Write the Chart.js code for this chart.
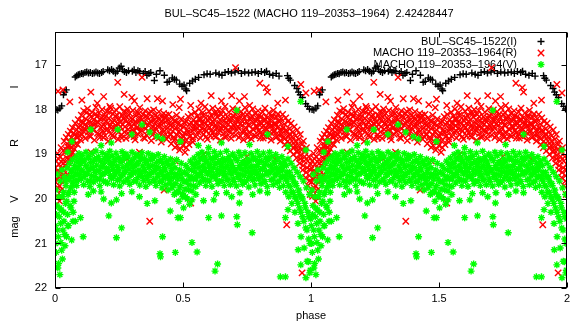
<!DOCTYPE html>
<html>
<head>
<meta charset="utf-8">
<title>BUL-SC45-1522 light curve</title>
<script src="https://cdn.jsdelivr.net/npm/chart.js@4.4.1/dist/chart.umd.min.js"></script>
<style>
  html, body { margin: 0; padding: 0; background: #fff; }
  #lc { display: block; }
</style>
</head>
<body>
<canvas id="lc" width="573" height="330"></canvas>
<script>
const titleText = 'BUL–SC45–1522 (MACHO 119–20353–1964)  2.42428447';
const seriesNames = ['BUL–SC45–1522(I)', 'MACHO 119–20353–1964(R)', 'MACHO 119–20353–1964(V)'];
const xTicks = [0, 0.5, 1, 1.5, 2];
const yTicks = [17, 18, 19, 20, 21, 22];

// phase-folded photometry over one cycle: [phase, mag]
const iPoints = [
  [0.004, 17.99], [0.011, 18.00], [0.019, 17.96], [0.026, 17.91], [0.033, 17.66], [0.038, 17.60], [0.044, 17.55],
  [0.079, 17.26], [0.085, 17.23], [0.091, 17.21], [0.097, 17.20], [0.104, 17.18], [0.110, 17.19], [0.117, 17.16],
  [0.124, 17.15], [0.131, 17.17], [0.138, 17.16], [0.146, 17.18], [0.153, 17.17], [0.160, 17.15], [0.167, 17.17],
  [0.174, 17.18], [0.182, 17.16], [0.188, 17.14], [0.206, 17.10], [0.213, 17.12], [0.221, 17.09], [0.228, 17.13],
  [0.236, 17.17], [0.243, 17.13], [0.251, 17.06], [0.258, 17.02], [0.264, 17.10], [0.271, 17.14], [0.279, 17.16],
  [0.287, 17.12], [0.302, 17.13], [0.309, 17.10], [0.316, 17.16], [0.324, 17.12], [0.331, 17.14], [0.345, 17.18],
  [0.352, 17.14], [0.359, 17.22], [0.367, 17.18], [0.374, 17.16], [0.388, 17.34], [0.396, 17.20], [0.410, 17.12],
  [0.427, 17.22], [0.438, 17.38], [0.446, 17.36], [0.458, 17.28], [0.466, 17.31], [0.474, 17.33], [0.487, 17.42],
  [0.496, 17.47], [0.504, 17.44], [0.511, 17.53], [0.514, 17.57], [0.526, 17.40], [0.537, 17.35], [0.548, 17.31],
  [0.561, 17.27], [0.582, 17.21], [0.594, 17.19], [0.606, 17.20], [0.628, 17.17], [0.641, 17.20], [0.652, 17.22],
  [0.664, 17.16], [0.677, 17.14], [0.689, 17.17], [0.703, 17.15], [0.716, 17.12], [0.728, 17.18], [0.741, 17.15],
  [0.756, 17.17], [0.769, 17.16], [0.782, 17.15], [0.794, 17.18], [0.806, 17.14], [0.819, 17.16], [0.826, 17.13],
  [0.838, 17.20], [0.851, 17.22], [0.864, 17.18], [0.875, 17.24], [0.908, 17.23], [0.913, 17.29], [0.919, 17.33],
  [0.936, 17.45], [0.945, 17.52], [0.951, 17.60], [0.958, 17.66], [0.966, 17.72], [0.979, 17.86], [0.987, 17.92],
  [0.994, 17.98]
];

const rPoints = [
  [0.002, 19.62], [0.004, 19.15], [0.006, 19.94], [0.008, 19.38], [0.010, 18.98], [0.012, 19.75], [0.014, 19.50],
  [0.016, 19.22], [0.018, 20.05], [0.020, 19.05], [0.022, 19.60], [0.024, 18.85], [0.026, 19.32], [0.028, 19.78],
  [0.030, 19.12], [0.032, 18.92], [0.034, 19.45], [0.036, 18.70], [0.038, 19.25], [0.040, 18.95], [0.042, 19.55],
  [0.044, 18.62], [0.046, 19.08], [0.048, 18.82], [0.050, 19.30], [0.052, 18.55], [0.054, 18.90], [0.056, 18.72],
  [0.058, 19.12], [0.060, 18.48], [0.062, 18.85], [0.064, 18.62], [0.066, 18.98], [0.068, 18.40], [0.070, 18.70],
  [0.073, 18.52], [0.076, 18.88], [0.079, 18.30], [0.082, 18.60], [0.085, 18.45], [0.088, 18.78], [0.091, 18.22],
  [0.094, 18.50], [0.097, 18.35], [0.100, 18.68],
  [0.001, 19.30], [0.005, 19.80], [0.009, 19.55], [0.013, 19.10], [0.017, 19.70], [0.021, 19.40], [0.025, 19.95],
  [0.029, 19.50], [0.033, 19.20], [0.037, 19.60], [0.041, 19.25], [0.045, 18.90], [0.049, 19.45], [0.053, 19.10],
  [0.057, 18.80], [0.061, 19.00], [0.065, 18.75], [0.069, 18.95], [0.074, 18.68], [0.078, 18.55], [0.083, 18.75],
  [0.087, 18.62], [0.092, 18.40], [0.096, 18.58],
  [0.103, 18.12], [0.106, 18.55], [0.109, 18.30], [0.112, 18.02], [0.115, 18.42], [0.118, 18.64], [0.121, 18.20],
  [0.124, 18.36], [0.127, 17.97], [0.130, 18.50], [0.133, 18.26], [0.136, 18.10], [0.139, 18.60], [0.142, 18.38],
  [0.145, 18.05], [0.148, 18.45], [0.151, 18.22], [0.154, 18.68], [0.157, 18.32], [0.160, 17.94], [0.163, 18.15],
  [0.166, 18.52], [0.169, 18.28], [0.172, 18.07], [0.175, 18.62], [0.178, 18.40], [0.181, 18.18], [0.184, 17.99],
  [0.187, 18.48], [0.190, 18.34], [0.193, 18.11], [0.196, 18.58], [0.199, 18.25], [0.202, 18.03], [0.205, 18.43],
  [0.208, 18.70], [0.211, 18.19], [0.214, 18.36], [0.217, 17.96], [0.220, 18.53], [0.223, 18.27], [0.226, 18.09],
  [0.229, 18.61], [0.232, 18.41], [0.235, 18.14], [0.238, 18.00], [0.241, 18.47], [0.244, 18.30], [0.247, 18.66],
  [0.250, 18.20], [0.253, 17.93], [0.256, 18.38], [0.259, 18.56], [0.262, 18.12], [0.265, 18.33], [0.268, 18.04],
  [0.271, 18.50], [0.274, 18.24], [0.277, 18.64], [0.280, 18.16], [0.283, 17.98], [0.286, 18.44], [0.289, 18.29],
  [0.292, 18.08], [0.295, 18.59], [0.298, 18.37], [0.301, 18.21], [0.304, 18.01], [0.307, 18.49], [0.310, 18.32],
  [0.313, 18.67], [0.316, 18.13], [0.319, 18.40], [0.322, 18.05], [0.325, 18.55], [0.328, 18.26], [0.331, 17.95],
  [0.334, 18.19], [0.337, 18.46], [0.340, 18.35], [0.343, 18.10], [0.346, 18.62], [0.349, 18.28], [0.352, 18.02],
  [0.355, 18.42], [0.358, 18.57], [0.361, 18.17], [0.364, 18.34], [0.367, 18.07], [0.370, 18.51], [0.373, 18.25],
  [0.376, 18.69], [0.379, 18.14], [0.382, 18.39], [0.385, 18.00], [0.388, 18.48], [0.391, 18.30], [0.394, 18.11],
  [0.397, 18.60], [0.400, 18.36], [0.403, 18.20], [0.406, 18.04], [0.409, 18.53], [0.412, 18.31], [0.415, 18.72],
  [0.418, 18.16], [0.421, 18.44], [0.424, 18.08], [0.427, 18.58], [0.430, 18.27], [0.433, 18.12], [0.436, 18.66],
  [0.439, 18.40], [0.442, 18.22], [0.445, 18.10], [0.448, 18.55],
  [0.105, 18.25], [0.111, 18.48], [0.117, 18.33], [0.123, 18.06], [0.129, 18.40], [0.135, 18.58], [0.141, 18.15],
  [0.147, 18.31], [0.153, 18.44], [0.159, 18.09], [0.165, 18.27], [0.171, 18.55], [0.177, 18.21], [0.183, 18.37],
  [0.189, 18.62], [0.195, 18.17], [0.201, 18.46], [0.207, 18.29], [0.213, 18.05], [0.219, 18.41], [0.225, 18.57],
  [0.231, 18.24], [0.237, 18.35], [0.243, 18.12], [0.249, 18.49], [0.255, 18.28], [0.261, 18.63], [0.267, 18.19],
  [0.273, 18.38], [0.279, 18.06], [0.285, 18.52], [0.291, 18.33], [0.297, 18.18], [0.303, 18.45], [0.309, 18.60],
  [0.315, 18.26], [0.321, 18.39], [0.327, 18.09], [0.333, 18.50], [0.339, 18.22], [0.345, 18.37], [0.351, 18.64],
  [0.357, 18.14], [0.363, 18.47], [0.369, 18.30], [0.375, 18.04], [0.381, 18.56], [0.387, 18.23], [0.393, 18.41],
  [0.399, 18.16], [0.405, 18.63], [0.411, 18.36], [0.417, 18.25], [0.423, 18.50], [0.429, 18.18], [0.435, 18.43],
  [0.441, 18.60], [0.447, 18.30],
  [0.451, 18.35], [0.454, 18.76], [0.457, 18.18], [0.460, 18.48], [0.463, 18.62], [0.466, 18.25], [0.469, 18.84],
  [0.472, 18.40], [0.475, 18.12], [0.478, 18.57], [0.481, 18.70], [0.484, 18.30], [0.487, 18.90], [0.490, 18.45],
  [0.493, 18.20], [0.496, 18.64], [0.499, 18.80], [0.502, 18.38], [0.505, 18.52], [0.508, 18.95], [0.511, 18.25],
  [0.514, 18.68], [0.517, 18.44], [0.520, 18.15], [0.523, 18.78], [0.526, 18.33], [0.529, 18.58], [0.532, 18.10],
  [0.535, 18.47], [0.538, 18.72], [0.541, 18.22], [0.544, 18.38], [0.547, 18.05], [0.550, 18.60],
  [0.453, 18.55], [0.459, 18.38], [0.465, 18.68], [0.471, 18.26], [0.477, 18.80], [0.483, 18.50], [0.489, 18.36],
  [0.495, 18.72], [0.501, 18.58], [0.507, 18.30], [0.513, 18.85], [0.519, 18.50], [0.525, 18.60], [0.531, 18.28],
  [0.537, 18.65], [0.543, 18.45], [0.549, 18.30],
  [0.553, 18.28], [0.556, 18.14], [0.559, 18.50], [0.562, 17.98], [0.565, 18.36], [0.568, 18.63], [0.571, 18.21],
  [0.574, 18.42], [0.577, 18.06], [0.580, 18.55], [0.583, 18.30], [0.586, 17.93], [0.589, 18.18], [0.592, 18.47],
  [0.595, 18.66], [0.598, 18.25], [0.601, 18.03], [0.604, 18.39], [0.607, 18.58], [0.610, 18.12], [0.613, 18.33],
  [0.616, 17.96], [0.619, 18.50], [0.622, 18.22], [0.625, 18.07], [0.628, 18.61], [0.631, 18.40], [0.634, 18.16],
  [0.637, 17.99], [0.640, 18.45], [0.643, 18.29], [0.646, 18.68], [0.649, 18.10], [0.652, 18.35], [0.655, 18.02],
  [0.658, 18.53], [0.661, 18.24], [0.664, 17.92], [0.667, 18.41], [0.670, 18.60], [0.673, 18.15], [0.676, 18.32],
  [0.679, 18.05], [0.682, 18.48], [0.685, 18.27], [0.688, 18.64], [0.691, 18.19], [0.694, 17.97], [0.697, 18.43],
  [0.700, 18.36], [0.703, 18.09], [0.706, 18.56], [0.709, 18.23], [0.712, 18.00], [0.715, 18.38], [0.718, 18.62],
  [0.721, 18.13], [0.724, 18.31], [0.727, 18.04], [0.730, 18.49], [0.733, 18.26], [0.736, 18.67], [0.739, 18.17],
  [0.742, 17.95], [0.745, 18.40], [0.748, 18.55], [0.751, 18.11], [0.754, 18.34], [0.757, 18.06], [0.760, 18.52],
  [0.763, 18.22], [0.766, 18.65], [0.769, 18.14], [0.772, 17.98], [0.775, 18.44], [0.778, 18.30], [0.781, 18.08],
  [0.784, 18.59], [0.787, 18.37], [0.790, 18.19], [0.793, 18.02], [0.796, 18.47], [0.799, 18.28], [0.802, 18.63],
  [0.805, 18.15], [0.808, 18.39], [0.811, 18.05], [0.814, 18.54], [0.817, 18.25], [0.820, 17.96], [0.823, 18.41],
  [0.826, 18.60], [0.829, 18.18], [0.832, 18.33], [0.835, 18.07], [0.838, 18.50], [0.841, 18.24], [0.844, 18.68],
  [0.847, 18.12], [0.850, 18.36], [0.853, 18.01], [0.856, 18.46], [0.859, 18.29], [0.862, 18.62], [0.865, 18.16],
  [0.868, 18.40], [0.871, 18.09], [0.874, 18.56], [0.877, 18.27], [0.880, 18.70], [0.883, 18.20], [0.886, 18.45],
  [0.555, 18.40], [0.561, 18.20], [0.567, 18.48], [0.573, 18.30], [0.579, 18.12], [0.585, 18.44], [0.591, 18.60],
  [0.597, 18.35], [0.603, 18.18], [0.609, 18.47], [0.615, 18.27], [0.621, 18.58], [0.627, 18.34], [0.633, 18.08],
  [0.639, 18.51], [0.645, 18.23], [0.651, 18.42], [0.657, 18.15], [0.663, 18.61], [0.669, 18.30], [0.675, 18.47],
  [0.681, 18.20], [0.687, 18.38], [0.693, 18.55], [0.699, 18.14], [0.705, 18.32], [0.711, 18.45], [0.717, 18.22],
  [0.723, 18.58], [0.729, 18.36], [0.735, 18.10], [0.741, 18.48], [0.747, 18.26], [0.753, 18.62], [0.759, 18.35],
  [0.765, 18.18], [0.771, 18.43], [0.777, 18.57], [0.783, 18.24], [0.789, 18.40], [0.795, 18.13], [0.801, 18.52],
  [0.807, 18.30], [0.813, 18.63], [0.819, 18.20], [0.825, 18.44], [0.831, 18.27], [0.837, 18.58], [0.843, 18.36],
  [0.849, 18.15], [0.855, 18.50], [0.861, 18.33], [0.867, 18.60], [0.873, 18.25], [0.879, 18.45], [0.885, 18.55],
  [0.889, 18.10], [0.892, 18.62], [0.895, 18.32], [0.898, 18.78], [0.901, 18.18], [0.904, 18.50], [0.907, 18.85],
  [0.910, 18.26], [0.913, 18.60], [0.916, 18.42], [0.919, 18.92], [0.922, 18.30], [0.925, 18.70], [0.928, 18.50],
  [0.931, 19.00], [0.934, 18.38], [0.937, 18.80], [0.940, 18.58], [0.943, 19.08], [0.946, 18.45], [0.949, 18.90],
  [0.952, 18.66], [0.955, 19.20], [0.958, 18.55], [0.961, 19.02], [0.964, 18.78], [0.967, 19.35], [0.970, 18.70],
  [0.973, 19.15], [0.976, 18.92], [0.979, 19.52], [0.982, 18.85], [0.985, 19.30], [0.988, 19.70], [0.991, 19.05],
  [0.994, 19.48], [0.997, 19.90], [0.999, 19.22],
  [0.891, 18.40], [0.897, 18.65], [0.903, 18.45], [0.909, 18.70], [0.915, 18.55], [0.921, 18.80], [0.927, 18.60],
  [0.933, 18.85], [0.939, 18.70], [0.945, 18.95], [0.951, 18.80], [0.957, 19.10], [0.963, 18.90], [0.969, 19.25],
  [0.975, 19.05], [0.981, 19.40], [0.987, 19.15], [0.993, 19.60], [0.998, 19.35],
  // scattered measurements away from the main band
  [0.012, 17.58], [0.031, 17.55], [0.058, 17.82], [0.105, 17.78], [0.140, 17.60], [0.165, 17.85], [0.190, 17.70],
  [0.214, 17.92], [0.245, 17.38], [0.270, 17.65], [0.300, 17.72], [0.310, 17.80], [0.340, 17.27], [0.360, 17.75],
  [0.400, 17.75], [0.420, 17.80], [0.460, 17.88], [0.485, 17.95], [0.490, 17.76], [0.530, 17.90], [0.570, 17.85],
  [0.610, 17.68], [0.650, 17.80], [0.690, 17.68], [0.705, 17.05], [0.720, 17.80], [0.740, 17.70], [0.760, 17.90],
  [0.800, 17.40], [0.825, 17.50], [0.830, 17.60], [0.870, 17.85], [0.900, 17.78], [0.960, 17.43], [0.980, 17.62],
  [0.370, 20.50], [0.905, 20.58], [0.965, 21.66], [0.426, 19.80], [0.530, 20.09], [0.200, 19.05], [0.280, 19.10],
  [0.580, 19.00], [0.640, 19.15], [0.750, 19.05], [0.860, 19.10], [0.330, 18.95], [0.470, 19.15], [0.140, 18.95]
];

const vPoints = [
  [0.001, 20.60], [0.003, 19.80], [0.005, 21.20], [0.007, 20.15], [0.009, 19.45], [0.011, 21.55], [0.013, 20.85],
  [0.015, 19.95], [0.017, 20.40], [0.019, 21.70], [0.021, 19.60], [0.023, 20.98], [0.025, 20.25], [0.027, 19.35],
  [0.029, 21.35], [0.031, 20.70], [0.033, 19.85], [0.035, 20.50], [0.037, 19.50], [0.039, 21.05], [0.041, 20.10],
  [0.043, 19.70], [0.045, 20.85], [0.047, 19.30], [0.049, 20.35], [0.051, 19.90], [0.053, 20.60], [0.055, 19.55],
  [0.057, 19.20], [0.059, 20.15], [0.061, 19.75], [0.063, 19.40], [0.065, 20.92], [0.067, 19.62], [0.069, 19.12],
  [0.071, 20.30], [0.073, 19.50], [0.075, 19.85], [0.077, 19.25], [0.079, 20.50], [0.081, 19.42], [0.083, 19.05],
  [0.085, 19.70], [0.088, 19.32], [0.091, 19.58], [0.094, 18.98], [0.097, 19.45],
  [0.002, 21.00], [0.006, 20.35], [0.010, 20.70], [0.014, 21.45], [0.018, 20.20], [0.022, 20.55], [0.026, 21.15],
  [0.030, 19.95], [0.034, 20.30], [0.038, 20.80], [0.042, 19.60], [0.046, 20.05], [0.050, 20.60], [0.054, 19.85],
  [0.058, 19.50], [0.062, 20.20], [0.066, 19.35], [0.070, 19.70], [0.074, 20.05], [0.078, 19.30], [0.082, 19.60],
  [0.086, 19.15], [0.090, 19.45], [0.095, 19.25], [0.099, 19.10],
  [0.100, 19.20], [0.103, 19.55], [0.106, 19.02], [0.109, 19.38], [0.112, 19.68], [0.115, 19.12], [0.118, 19.45],
  [0.121, 18.95], [0.124, 19.28], [0.127, 19.60], [0.130, 19.08], [0.133, 19.35], [0.136, 19.72], [0.139, 19.18],
  [0.142, 19.48], [0.145, 18.98], [0.148, 19.30], [0.151, 19.62], [0.154, 19.10], [0.157, 19.40], [0.160, 18.92],
  [0.163, 19.24], [0.166, 19.56], [0.169, 19.05], [0.172, 19.36], [0.175, 19.70], [0.178, 19.15], [0.181, 19.46],
  [0.184, 18.96], [0.187, 19.27], [0.190, 19.60], [0.193, 19.09], [0.196, 19.42], [0.199, 19.00], [0.202, 19.32],
  [0.205, 19.65], [0.208, 19.14], [0.211, 19.38], [0.214, 18.93], [0.217, 19.22], [0.220, 19.54], [0.223, 19.04],
  [0.226, 19.34], [0.229, 19.68], [0.232, 19.16], [0.235, 19.44], [0.238, 18.97], [0.241, 19.26], [0.244, 19.58],
  [0.247, 19.07], [0.250, 19.37], [0.253, 19.71], [0.256, 19.12], [0.259, 19.48], [0.262, 18.94], [0.265, 19.29],
  [0.268, 19.62], [0.271, 19.10], [0.274, 19.40], [0.277, 18.99], [0.280, 19.24], [0.283, 19.55], [0.286, 19.06],
  [0.289, 19.33], [0.292, 19.67], [0.295, 19.17], [0.298, 19.45], [0.301, 18.95], [0.304, 19.28], [0.307, 19.60],
  [0.310, 19.08], [0.313, 19.39], [0.316, 19.00], [0.319, 19.21], [0.322, 19.52], [0.325, 19.03], [0.328, 19.35],
  [0.331, 19.69], [0.334, 19.13], [0.337, 19.43], [0.340, 18.96], [0.343, 19.26], [0.346, 19.59], [0.349, 19.09],
  [0.352, 19.38], [0.355, 19.72], [0.358, 19.15], [0.361, 19.47], [0.364, 18.98], [0.367, 19.30], [0.370, 19.63],
  [0.373, 19.11], [0.376, 19.41], [0.379, 19.02], [0.382, 19.25], [0.385, 19.56], [0.388, 19.06], [0.391, 19.36],
  [0.394, 19.70], [0.397, 19.18], [0.400, 19.46], [0.403, 19.00], [0.406, 19.30], [0.409, 19.62], [0.412, 19.12],
  [0.415, 19.42], [0.418, 19.75], [0.421, 19.20], [0.424, 19.50], [0.427, 19.05], [0.430, 19.35], [0.433, 19.68],
  [0.436, 19.15], [0.439, 19.45], [0.442, 19.80],
  [0.102, 19.35], [0.108, 19.15], [0.114, 19.50], [0.120, 19.25], [0.126, 19.42], [0.132, 19.05], [0.138, 19.60],
  [0.144, 19.30], [0.150, 19.16], [0.156, 19.50], [0.162, 19.38], [0.168, 19.10], [0.174, 19.55], [0.180, 19.28],
  [0.186, 19.44], [0.192, 19.20], [0.198, 19.62], [0.204, 19.33], [0.210, 19.06], [0.216, 19.47], [0.222, 19.25],
  [0.228, 19.50], [0.234, 19.12], [0.240, 19.40], [0.246, 19.30], [0.252, 19.55], [0.258, 19.18], [0.264, 19.45],
  [0.270, 19.03], [0.276, 19.36], [0.282, 19.58], [0.288, 19.22], [0.294, 19.46], [0.300, 19.14], [0.306, 19.40],
  [0.312, 19.26], [0.318, 19.60], [0.324, 19.20], [0.330, 19.44], [0.336, 19.08], [0.342, 19.50], [0.348, 19.33],
  [0.354, 19.18], [0.360, 19.55], [0.366, 19.24], [0.372, 19.45], [0.378, 19.10], [0.384, 19.38], [0.390, 19.60],
  [0.396, 19.28], [0.402, 19.50], [0.408, 19.15], [0.414, 19.40], [0.420, 19.60], [0.426, 19.30], [0.432, 19.52],
  [0.438, 19.20], [0.444, 19.50],
  [0.445, 19.25], [0.448, 19.58], [0.451, 19.10], [0.454, 19.40], [0.457, 19.75], [0.460, 19.20], [0.463, 19.52],
  [0.466, 19.90], [0.469, 19.30], [0.472, 19.65], [0.475, 19.12], [0.478, 19.45], [0.481, 19.85], [0.484, 20.05],
  [0.487, 19.35], [0.490, 19.70], [0.493, 19.20], [0.496, 19.55], [0.499, 19.95], [0.502, 20.20], [0.505, 19.40],
  [0.508, 19.78], [0.511, 19.25], [0.514, 19.60], [0.517, 20.00], [0.520, 19.32], [0.523, 19.68], [0.526, 20.12],
  [0.529, 19.15], [0.532, 19.50], [0.535, 19.82], [0.538, 19.22], [0.541, 19.55], [0.544, 19.08], [0.547, 19.40],
  [0.550, 19.72], [0.553, 19.18],
  [0.450, 19.65], [0.456, 19.32], [0.462, 19.70], [0.468, 19.45], [0.474, 19.85], [0.480, 19.55], [0.486, 19.75],
  [0.492, 19.45], [0.498, 19.88], [0.504, 19.62], [0.510, 19.95], [0.516, 19.45], [0.522, 19.80], [0.528, 19.55],
  [0.534, 19.35], [0.540, 19.70], [0.546, 19.28], [0.552, 19.55],
  [0.556, 19.48], [0.559, 19.00], [0.562, 19.30], [0.565, 19.64], [0.568, 19.10], [0.571, 19.40], [0.574, 18.95],
  [0.577, 19.26], [0.580, 19.58], [0.583, 19.06], [0.586, 19.36], [0.589, 19.70], [0.592, 19.15], [0.595, 19.44],
  [0.598, 18.98], [0.601, 19.28], [0.604, 19.60], [0.607, 19.08], [0.610, 19.38], [0.613, 19.72], [0.616, 19.12],
  [0.619, 19.47], [0.622, 18.94], [0.625, 19.22], [0.628, 19.55], [0.631, 19.04], [0.634, 19.34], [0.637, 19.66],
  [0.640, 19.16], [0.643, 19.43], [0.646, 18.97], [0.649, 19.27], [0.652, 19.59], [0.655, 19.09], [0.658, 19.39],
  [0.661, 19.70], [0.664, 19.13], [0.667, 19.46], [0.670, 18.93], [0.673, 19.24], [0.676, 19.56], [0.679, 19.05],
  [0.682, 19.35], [0.685, 19.68], [0.688, 19.17], [0.691, 19.44], [0.694, 18.99], [0.697, 19.29], [0.700, 19.61],
  [0.703, 19.07], [0.706, 19.37], [0.709, 19.71], [0.712, 19.14], [0.715, 19.45], [0.718, 18.95], [0.721, 19.25],
  [0.724, 19.57], [0.727, 19.03], [0.730, 19.33], [0.733, 19.67], [0.736, 19.18], [0.739, 19.48], [0.742, 18.96],
  [0.745, 19.28], [0.748, 19.60], [0.751, 19.10], [0.754, 19.40], [0.757, 19.73], [0.760, 19.15], [0.763, 19.43],
  [0.766, 18.98], [0.769, 19.26], [0.772, 19.58], [0.775, 19.06], [0.778, 19.36], [0.781, 19.69], [0.784, 19.12],
  [0.787, 19.44], [0.790, 18.94], [0.793, 19.23], [0.796, 19.55], [0.799, 19.04], [0.802, 19.34], [0.805, 19.66],
  [0.808, 19.16], [0.811, 19.47], [0.814, 18.97], [0.817, 19.28], [0.820, 19.61], [0.823, 19.08], [0.826, 19.38],
  [0.829, 19.72], [0.832, 19.13], [0.835, 19.42], [0.838, 18.95], [0.841, 19.25], [0.844, 19.57], [0.847, 19.05],
  [0.850, 19.35], [0.853, 19.68], [0.856, 19.17], [0.859, 19.46], [0.862, 19.00], [0.865, 19.30], [0.868, 19.62],
  [0.871, 19.10], [0.874, 19.40], [0.877, 19.74], [0.880, 19.20], [0.883, 19.50], [0.886, 19.05], [0.889, 19.35],
  [0.892, 19.70], [0.895, 19.15], [0.898, 19.48],
  [0.558, 19.20], [0.564, 19.45], [0.570, 19.10], [0.576, 19.52], [0.582, 19.30], [0.588, 19.16], [0.594, 19.58],
  [0.600, 19.40], [0.606, 19.22], [0.612, 19.50], [0.618, 19.30], [0.624, 19.06], [0.630, 19.45], [0.636, 19.20],
  [0.642, 19.60], [0.648, 19.36], [0.654, 19.18], [0.660, 19.48], [0.666, 19.30], [0.672, 19.58], [0.678, 19.12],
  [0.684, 19.42], [0.690, 19.25], [0.696, 19.55], [0.702, 19.35], [0.708, 19.10], [0.714, 19.50], [0.720, 19.30],
  [0.726, 19.45], [0.732, 19.18], [0.738, 19.62], [0.744, 19.38], [0.750, 19.20], [0.756, 19.52], [0.762, 19.30],
  [0.768, 19.45], [0.774, 19.10], [0.780, 19.55], [0.786, 19.27], [0.792, 19.42], [0.798, 19.15], [0.804, 19.50],
  [0.810, 19.32], [0.816, 19.60], [0.822, 19.22], [0.828, 19.45], [0.834, 19.08], [0.840, 19.40], [0.846, 19.28],
  [0.852, 19.55], [0.858, 19.20], [0.864, 19.45], [0.870, 19.35], [0.876, 19.60], [0.882, 19.30], [0.888, 19.50],
  [0.894, 19.25],
  [0.901, 19.85], [0.904, 19.25], [0.907, 19.60], [0.910, 19.10], [0.913, 19.95], [0.916, 19.40], [0.919, 19.72],
  [0.922, 19.20], [0.925, 20.10], [0.928, 19.50], [0.931, 19.85], [0.934, 19.30], [0.937, 20.30], [0.940, 19.65],
  [0.943, 20.00], [0.946, 19.40], [0.949, 20.55], [0.952, 19.80], [0.955, 20.20], [0.958, 19.50], [0.961, 20.85],
  [0.964, 19.95], [0.967, 20.40], [0.970, 19.60], [0.973, 21.10], [0.976, 20.10], [0.979, 20.65], [0.982, 19.75],
  [0.985, 21.40], [0.988, 20.30], [0.991, 20.90], [0.994, 19.90], [0.997, 21.60], [0.999, 20.45],
  [0.900, 19.55], [0.906, 19.40], [0.912, 19.70], [0.918, 19.50], [0.924, 19.85], [0.930, 19.60], [0.936, 19.95],
  [0.942, 19.70], [0.948, 20.10], [0.954, 19.90], [0.960, 20.30], [0.966, 20.00], [0.972, 20.50], [0.978, 20.20],
  [0.984, 20.70], [0.990, 20.40], [0.996, 21.00],
  // isolated points above and below the band
  [0.066, 18.71], [0.140, 18.44], [0.245, 18.44], [0.340, 18.33], [0.370, 18.50], [0.400, 18.60], [0.420, 18.65],
  [0.490, 18.71], [0.710, 18.01], [0.650, 18.74], [0.830, 18.55], [0.910, 18.82], [0.960, 17.81], [0.980, 18.90],
  [0.300, 18.55], [0.220, 18.74], [0.050, 18.95], [0.180, 18.80], [0.560, 18.80], [0.760, 18.78], [0.600, 18.85],
  [0.180, 19.84], [0.190, 20.00], [0.220, 20.09], [0.240, 20.02], [0.260, 19.88], [0.300, 19.84], [0.330, 19.95],
  [0.360, 20.10], [0.390, 20.04], [0.450, 20.27], [0.480, 20.42], [0.490, 20.42], [0.070, 20.50], [0.100, 20.42],
  [0.110, 20.85], [0.210, 20.38], [0.240, 20.87], [0.260, 20.65], [0.420, 20.85], [0.410, 21.23], [0.412, 21.30],
  [0.470, 21.20], [0.535, 20.98], [0.555, 21.19], [0.600, 20.42], [0.650, 20.38], [0.635, 21.46], [0.625, 21.62],
  [0.710, 20.40], [0.712, 20.58], [0.770, 20.76], [0.720, 20.09], [0.722, 19.86], [0.620, 20.02], [0.580, 20.04],
  [0.535, 20.02], [0.670, 19.86], [0.690, 19.95], [0.772, 19.90], [0.830, 19.86], [0.910, 20.24], [0.900, 20.42],
  [0.900, 21.75], [0.950, 21.14], [0.990, 21.41], [0.960, 21.48], [0.880, 21.75], [0.980, 21.77], [0.995, 21.66],
  [0.130, 19.90], [0.150, 19.82], [0.550, 19.90], [0.630, 19.88], [0.800, 19.82]
];

const FONT = '"Liberation Sans", Arial, Helvetica, sans-serif';
const TEXT = '#000';

// the folded curve is shown twice, phase 0-1 and again 1-2
function twoCycles(points) {
  const out = [];
  points.forEach(([p, m]) => out.push({ x: p, y: m }));
  points.forEach(([p, m]) => out.push({ x: p + 1, y: m }));
  return out;
}

const styles = [
  { color: '#000000', pointStyle: 'cross', radius: 3.5 },
  { color: '#ff0000', pointStyle: 'crossRot', radius: 4.5 },
  { color: '#00ff00', pointStyle: 'star', radius: 3.5 },
];
const markWidth = 1.4;

const framePlugin = {
  id: 'frame',
  beforeDatasetsDraw(chart) {
    // key goes under the data, gnuplot draws it first
    const ctx = chart.ctx;
    const rows = [41.5, 53, 64.5];
    seriesNames.forEach((name, i) => {
      const st = styles[i];
      ctx.save();
      ctx.font = `11px ${FONT}`;
      ctx.fillStyle = TEXT;
      ctx.textAlign = 'right';
      ctx.textBaseline = 'middle';
      ctx.fillText(name, 517, rows[i]);
      ctx.strokeStyle = st.color;
      ctx.fillStyle = st.color;
      ctx.lineWidth = markWidth;
      Chart.helpers.drawPoint(ctx, {
        pointStyle: st.pointStyle, radius: st.radius, rotation: 0, borderWidth: markWidth
      }, 541, rows[i]);
      ctx.restore();
    });
  },
  afterDraw(chart) {
    const { ctx, chartArea: a, scales } = chart;
    const L = Math.round(a.left) + 0.5, R = Math.round(a.right) - 0.5;
    const T = Math.round(a.top) + 0.5, B = Math.round(a.bottom) - 0.5;
    ctx.save();
    ctx.strokeStyle = '#000';
    ctx.lineWidth = 1;
    ctx.strokeRect(L, T, R - L, B - T);
    ctx.beginPath();
    xTicks.forEach((v) => {
      const x = Math.round(scales.x.getPixelForValue(v)) + 0.5;
      ctx.moveTo(x, B); ctx.lineTo(x, B - 5);
      ctx.moveTo(x, T); ctx.lineTo(x, T + 5);
    });
    yTicks.forEach((v) => {
      const y = Math.round(scales.y.getPixelForValue(v)) + 0.5;
      ctx.moveTo(L, y); ctx.lineTo(L + 5, y);
      ctx.moveTo(R, y); ctx.lineTo(R - 5, y);
    });
    ctx.stroke();

    ctx.fillStyle = TEXT;
    ctx.font = `11px ${FONT}`;
    ctx.textAlign = 'center';
    ctx.textBaseline = 'middle';
    const midX = (a.left + a.right) / 2;
    ctx.fillText(titleText, midX - 2, 14);
    ctx.fillText('phase', midX, 316);

    // rotated magnitude label with the band letters spaced along it
    ctx.translate(15, 0);
    ctx.rotate(-Math.PI / 2);
    [['mag', 227], ['V', 199], ['R', 143], ['I', 87]].forEach(([t, y]) => {
      ctx.fillText(t, -y, 0);
    });
    ctx.restore();
  }
};

new Chart(document.getElementById('lc'), {
  type: 'scatter',
  data: {
    datasets: [iPoints, rPoints, vPoints].map((pts, i) => ({
      label: seriesNames[i],
      data: twoCycles(pts),
      pointStyle: styles[i].pointStyle,
      radius: styles[i].radius,
      borderColor: styles[i].color,
      backgroundColor: styles[i].color,
      borderWidth: markWidth,
      order: 3 - i,
    })),
  },
  options: {
    responsive: false,
    animation: false,
    events: [],
    layout: { padding: { top: 32, right: 2, left: 0, bottom: 0 } },
    plugins: { legend: { display: false }, tooltip: { enabled: false } },
    scales: {
      x: {
        type: 'linear', min: 0, max: 2,
        grid: { display: false }, border: { display: false },
        afterBuildTicks: (s) => { s.ticks = xTicks.map((v) => ({ value: v })); },
        afterFit: (s) => { s.height = 42; s.paddingLeft = 0; s.paddingRight = 0; },
        ticks: { color: TEXT, font: { family: FONT, size: 11 }, padding: -4, maxRotation: 0, callback: (v) => String(v) },
      },
      y: {
        type: 'linear', reverse: true, min: 16.25, max: 22,
        grid: { display: false }, border: { display: false },
        afterBuildTicks: (s) => { s.ticks = yTicks.map((v) => ({ value: v })); },
        afterFit: (s) => { s.width = 55; s.paddingTop = 0; s.paddingBottom = 0; },
        ticks: { color: TEXT, font: { family: FONT, size: 11 }, padding: 0, callback: (v) => String(v) },
      },
    },
  },
  plugins: [framePlugin],
});
</script>
</body>
</html>
